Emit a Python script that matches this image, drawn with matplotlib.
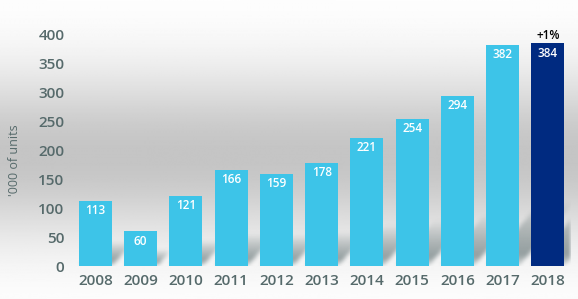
import numpy as np
import matplotlib.pyplot as plt

years = ['2008', '2009', '2010', '2011', '2012', '2013', '2014', '2015', '2016', '2017', '2018']
units = [113, 60, 121, 166, 159, 178, 221, 254, 294, 382, 384]
change_label = '+1%'

light_blue = '#3DC4E8'
navy = '#002A80'
grey_txt = '#566A6B'

plt.rcParams['font.family'] = ['Open Sans', 'DejaVu Sans']

fig = plt.figure(figsize=(5.78, 2.99), dpi=100)

# background gradient (white -> grey -> white)
bg = fig.add_axes([0, 0, 1, 1], zorder=-10)
yy = np.linspace(0, 1, 300)
shade = 1 - 0.23 * np.exp(-((yy - 0.48) / 0.28) ** 2)
img = np.repeat(np.clip(shade, 0, 1)[:, None], 2, axis=1)
bg.imshow(img, cmap='gray', vmin=0, vmax=1, aspect='auto', extent=[0, 1, 0, 1], origin='lower')
bg.axis('off')

ax = fig.add_axes([0.126, 0.110, 0.861, 0.776])
ax.patch.set_alpha(0)

x = np.arange(len(years))
colors = [light_blue] * (len(years) - 1) + [navy]
w = 0.73
x0, x1 = -0.5, len(years) - 0.5

# slanted, blurred shadows behind the bars (built as an image in data space)
slant = 0.0110
gx = np.linspace(x0, x1, 500)
gy = np.linspace(0, 400, 232)
GX, GY = np.meshgrid(gx, gy)
alpha = np.zeros_like(GX)
for xi, v in zip(x, units):
    H = 0.26 * v + 12
    xl, xr = xi - w / 2, xi + w / 2
    t = GY / H
    inside = (GY < H) & (GX >= xl + slant * GY) & (GX <= xr + slant * GY)
    a = 0.55 * np.clip(1 - t ** 1.5, 0, 1) * np.clip(t * 4 + 0.3, 0, 1)
    alpha = np.maximum(alpha, np.where(inside, a, 0))
k = np.ones(5) / 5
for _ in range(2):
    alpha = np.apply_along_axis(lambda r: np.convolve(r, k, mode='same'), 1, alpha)
    alpha = np.apply_along_axis(lambda c: np.convolve(c, k, mode='same'), 0, alpha)
rgba = np.zeros(alpha.shape + (4,))
rgba[..., 0] = 60 / 255
rgba[..., 1] = 80 / 255
rgba[..., 2] = 82 / 255
rgba[..., 3] = alpha
ax.imshow(rgba, extent=[x0, x1, 0, 400], origin='lower', aspect='auto',
          interpolation='bilinear', zorder=1)

ax.bar(x, units, width=w, color=colors, zorder=3)

for xi, v in zip(x, units):
    ax.text(xi, v - 6, str(v), ha='center', va='top', color='white',
            fontsize=8.5, fontweight='semibold', zorder=4)

ax.text(x[-1], units[-1] + 3, change_label, ha='center', va='bottom',
        color='black', fontsize=8.5, fontweight='semibold', clip_on=False)

ax.set_xlim(x0, x1)
ax.set_ylim(0, 400)
ax.set_yticks(range(0, 401, 50))
ax.set_xticks(x)
ax.set_xticklabels(years)
ax.tick_params(length=0, labelsize=11, labelcolor=grey_txt, pad=6)
for lab in ax.get_xticklabels() + ax.get_yticklabels():
    lab.set_fontweight('semibold')
for s in ax.spines.values():
    s.set_visible(False)

ax.set_ylabel("'000 of units", fontsize=9, color=grey_txt)
ax.yaxis.set_label_coords(-0.105, 0.457)

fig.savefig('out.png', dpi=100)
